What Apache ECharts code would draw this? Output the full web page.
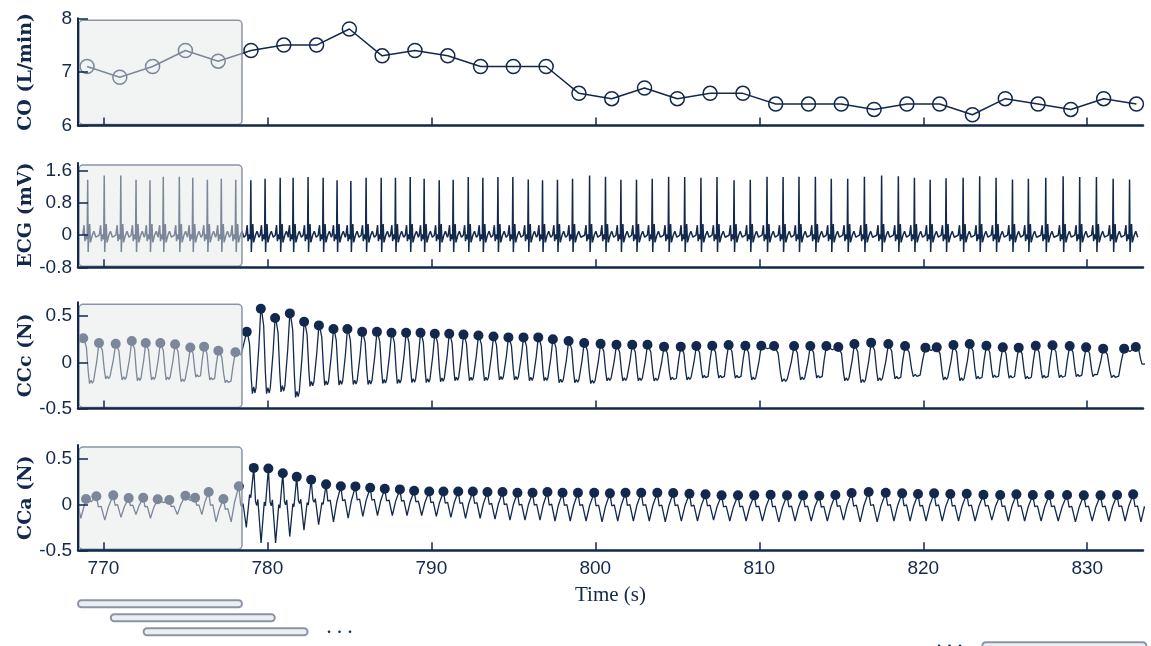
<!DOCTYPE html>
<html>
<head>
<meta charset="utf-8">
<script src="https://cdn.jsdelivr.net/npm/echarts@6/dist/echarts.min.js"></script>
<style>
  html, body { margin: 0; padding: 0; background: #fff; }
  #chart-container { width: 1151px; height: 646px; }
</style>
</head>
<body>
<div id="chart-container"></div>
<script>
// time axis (s)
var timeMin = 768.45;
var timeMax = 833.4;
var timeTicks = [770, 780, 790, 800, 810, 820, 830];

// CO (L/min), one estimate every 2 s
var coTimes = [769, 771, 773, 775, 777, 779, 781, 783, 785, 787, 789, 791, 793, 795, 797, 799, 801,
  803, 805, 807, 809, 811, 813, 815, 817, 819, 821, 823, 825, 827, 829, 831, 833];
var coValues = [7.1, 6.9, 7.1, 7.4, 7.2, 7.4, 7.5, 7.5, 7.8, 7.3, 7.4, 7.3, 7.1, 7.1, 7.1, 6.6, 6.5,
  6.7, 6.5, 6.6, 6.6, 6.4, 6.4, 6.4, 6.3, 6.4, 6.4, 6.2, 6.5, 6.4, 6.3, 6.5, 6.4];

// ECG: R-peak times (s) and R amplitudes (mV)
var ecgBeatTimes = [769.04, 770.05, 771.06, 771.99, 772.84, 773.65, 774.63, 775.45, 776.34, 777.19, 778.07,
  778.99, 779.86, 780.78, 781.57, 782.48, 783.40, 784.25, 785.09, 786.02, 786.94,
  787.81, 788.71, 789.56, 790.48, 791.33, 792.25, 793.14, 794.06, 794.97, 795.91,
  796.78, 797.69, 798.61, 799.65, 800.62, 801.56, 802.51, 803.47, 804.47, 805.45,
  806.44, 807.42, 808.46, 809.45, 810.47, 811.45, 812.42, 813.42, 814.39, 815.39,
  816.41, 817.46, 818.48, 819.46, 820.42, 821.39, 822.43, 823.44, 824.44, 825.44,
  826.41, 827.47, 828.53, 829.54, 830.56, 831.58, 832.58];
var ecgBeatPeaks = [1.38, 1.49, 1.49, 1.38, 1.37, 1.46, 1.46, 1.43, 1.38, 1.41, 1.38,
  1.37, 1.41, 1.43, 1.43, 1.45, 1.43, 1.37, 1.35, 1.43, 1.43,
  1.43, 1.45, 1.41, 1.37, 1.38, 1.45, 1.43, 1.45, 1.45, 1.39,
  1.37, 1.38, 1.41, 1.49, 1.46, 1.38, 1.38, 1.41, 1.46, 1.45,
  1.43, 1.45, 1.37, 1.38, 1.46, 1.45, 1.46, 1.46, 1.41, 1.41,
  1.46, 1.49, 1.47, 1.43, 1.38, 1.42, 1.43, 1.47, 1.43, 1.39,
  1.41, 1.43, 1.47, 1.45, 1.45, 1.41, 1.39];
// beat shape around each R peak (offset s, mV); the 0 offset takes the R amplitude
var ecgShapeT = [-0.30, -0.22, -0.17, -0.10, -0.03, 0, 0.03, 0.07, 0.12, 0.17, 0.28, 0.38, 0.50];
var ecgShapeV = [0.0, 0.25, -0.15, 0.02, -0.10, 0, -0.42, 0.05, 0.28, -0.18, 0.0, 0.10, -0.05];

// CCc (N): detected peaks and the trough that follows each
var cccTimes = [768.77, 769.73, 770.75, 771.73, 772.58, 773.47, 774.37, 775.30, 776.14, 777.01, 778.05,
  778.74, 779.60, 780.47, 781.37, 782.24, 783.14, 784.03, 784.88, 785.78, 786.68,
  787.57, 788.46, 789.34, 790.21, 791.09, 791.96, 792.87, 793.79, 794.70, 795.62,
  796.52, 797.41, 798.37, 799.32, 800.32, 801.29, 802.25, 803.18, 804.19, 805.21,
  806.16, 807.13, 808.13, 809.15, 810.12, 810.90, 812.12, 813.11, 814.09, 814.82,
  815.80, 816.82, 817.87, 818.89, 820.13, 820.82, 821.84, 822.83, 823.85, 824.85,
  825.82, 826.86, 827.88, 828.93, 829.93, 830.97, 832.25, 832.96];
var cccPeaks = [0.26, 0.21, 0.20, 0.23, 0.21, 0.21, 0.195, 0.16, 0.17, 0.125, 0.11,
  0.33, 0.58, 0.48, 0.53, 0.44, 0.40, 0.36, 0.36, 0.33, 0.33,
  0.32, 0.32, 0.32, 0.31, 0.31, 0.30, 0.29, 0.28, 0.27, 0.27,
  0.27, 0.25, 0.23, 0.21, 0.20, 0.19, 0.19, 0.19, 0.17, 0.17,
  0.177, 0.18, 0.188, 0.18, 0.18, 0.177, 0.177, 0.177, 0.177, 0.166,
  0.198, 0.213, 0.198, 0.177, 0.159, 0.162, 0.188, 0.198, 0.18, 0.162,
  0.159, 0.18, 0.184, 0.177, 0.162, 0.148, 0.148, 0.166];
var cccTroughs = [-0.23, -0.18, -0.19, -0.20, -0.19, -0.19, -0.21, -0.16, -0.19, -0.22, -0.29,
  -0.34, -0.34, -0.32, -0.38, -0.26, -0.25, -0.245, -0.24, -0.24, -0.23,
  -0.23, -0.22, -0.22, -0.21, -0.20, -0.20, -0.20, -0.19, -0.19, -0.20,
  -0.20, -0.22, -0.22, -0.23, -0.20, -0.20, -0.20, -0.20, -0.19, -0.19,
  -0.17, -0.17, -0.17, -0.19, -0.21, -0.21, -0.19, -0.17, -0.20, -0.20,
  -0.22, -0.20, -0.18, -0.155, -0.19, -0.19, -0.20, -0.18, -0.165, -0.17,
  -0.18, -0.17, -0.165, -0.155, -0.155, -0.165, -0.17, -0.02];
var cccLeadIn = [[768.45, 0.2]];

// CCa (N): detected peaks and the trough that follows each
var ccaTimes = [768.94, 769.57, 770.60, 771.54, 772.43, 773.31, 774.02, 775.00, 775.59, 776.42, 777.32, 778.26,
  779.17, 780.06, 780.94, 781.79, 782.67, 783.58, 784.48, 785.37, 786.27, 787.16,
  788.08, 788.95, 789.87, 790.74, 791.64, 792.53, 793.42, 794.34, 795.25, 796.17,
  797.08, 798.00, 798.94, 799.93, 800.89, 801.84, 802.80, 803.78, 804.75, 805.74,
  806.72, 807.70, 808.70, 809.69, 810.69, 811.69, 812.67, 813.66, 814.64, 815.63,
  816.67, 817.71, 818.71, 819.68, 820.66, 821.65, 822.65, 823.67, 824.69, 825.68,
  826.68, 827.69, 828.77, 829.79, 830.81, 831.82, 832.80];
var ccaPeaks = [0.06, 0.09, 0.10, 0.07, 0.074, 0.057, 0.05, 0.096, 0.074, 0.136, 0.06, 0.20,
  0.40, 0.393, 0.342, 0.302, 0.27, 0.22, 0.20, 0.198, 0.183, 0.172,
  0.165, 0.15, 0.143, 0.143, 0.143, 0.143, 0.136, 0.136, 0.128, 0.128,
  0.136, 0.128, 0.128, 0.128, 0.122, 0.128, 0.128, 0.128, 0.125, 0.117,
  0.111, 0.10, 0.10, 0.10, 0.107, 0.10, 0.10, 0.096, 0.103, 0.125,
  0.136, 0.128, 0.122, 0.114, 0.122, 0.114, 0.118, 0.107, 0.103, 0.111,
  0.103, 0.103, 0.103, 0.10, 0.10, 0.103, 0.111];
var ccaTroughs = [-0.15, -0.17, -0.14, -0.11, -0.15, -0.14, -0.11, -0.15, -0.11, -0.19, -0.19, -0.25,
  -0.42, -0.42, -0.35, -0.28, -0.22, -0.19, -0.15, -0.13, -0.12, -0.12,
  -0.12, -0.12, -0.13, -0.14, -0.15, -0.15, -0.16, -0.17, -0.17, -0.17,
  -0.18, -0.18, -0.18, -0.19, -0.18, -0.18, -0.18, -0.19, -0.18, -0.18,
  -0.17, -0.18, -0.18, -0.18, -0.19, -0.18, -0.18, -0.18, -0.17, -0.19,
  -0.19, -0.18, -0.18, -0.18, -0.18, -0.18, -0.18, -0.17, -0.18, -0.18,
  -0.18, -0.18, -0.19, -0.18, -0.18, -0.18, -0.19];
var ccaLeadIn = [[768.45, 0.0], [768.62, -0.15]];

// cycle shapes between one peak and the next (fraction of cycle, level 0 = trough .. 1 = peak)
var cccShapeF = [0.08, 0.20, 0.32, 0.40, 0.50, 0.58, 0.66, 0.74, 0.86];
var cccShapeR = [0.95, 0.80, 0.25, 0.00, 0.08, 0.01, 0.07, 0.05, 0.55];
var ccaShapeF = [0.12, 0.20, 0.28, 0.50, 0.72, 0.80];
var ccaShapeR = [0.55, 0.50, 0.58, 0.00, 0.55, 0.50];

// highlighted 10 s analysis window and sliding windows below the axis
var highlightWindow = [768.45, 778.45];
var windowStarts = [768.45, 770.45, 772.45, 823.6];
var windowRows = [0, 1, 2, 3];
var windowLength = 10;
var ellipsisAt = [[784.4, 2], [821.6, 3]];

var NAVY = "#12284c";

function buildEcg() {
  var pts = [];
  ecgBeatTimes.forEach(function (t, i) {
    ecgShapeT.forEach(function (dt, k) {
      pts.push([+(t + dt).toFixed(3), dt === 0 ? ecgBeatPeaks[i] : ecgShapeV[k]]);
    });
  });
  return pts;
}

function buildCycles(leadIn, times, peaks, troughs, shapeF, shapeR) {
  var pts = leadIn.slice();
  for (var i = 0; i < times.length; i++) {
    var t = times[i], p = peaks[i], q = troughs[i];
    var last = i === times.length - 1;
    var g = last ? 0.95 : times[i + 1] - t;
    var pNext = last ? p : peaks[i + 1];
    pts.push([t, p]);
    if (g < 0.8) {
      // two detections on one plateau
      pts.push([t + g / 2, Math.min(p, pNext) - 0.03]);
      continue;
    }
    for (var k = 0; k < shapeF.length; k++) {
      var top = shapeF[k] < 0.45 ? p : pNext;
      pts.push([t + shapeF[k] * g, q + shapeR[k] * (top - q)]);
    }
  }
  return pts;
}

function zip(a, b) {
  return a.map(function (v, i) { return [v, b[i]]; });
}

var chartDom = document.getElementById("chart-container");
var myChart = echarts.init(chartDom, null, { renderer: "canvas" });

// panel layout
var panelTop = [18.3, 163, 302.3, 445];
var panelHeight = [107.2, 104.3, 106.2, 105.3];
var panelNames = ["CO (L/min)", "ECG (mV)", "CCc (N)", "CCa (N)"];
var panelMin = [6, -0.8, -0.5, -0.5];
var panelMax = [8, 1.8, 0.65, 0.65];
var panelTicks = [[6, 7, 8], [-0.8, 0, 0.8, 1.6], [-0.5, 0, 0.5], [-0.5, 0, 0.5]];

var labelFont = { fontFamily: "Liberation Sans", fontSize: 19, color: NAVY };

var grids = [], xAxes = [], yAxes = [];
for (var i = 0; i < 4; i++) {
  grids.push({ left: 78, right: 8, top: panelTop[i], height: panelHeight[i] });
  xAxes.push({
    type: "value", gridIndex: i, min: timeMin, max: timeMax, z: 150,
    axisLine: { show: true, onZero: false, lineStyle: { color: NAVY, width: 2.5 } },
    axisTick: { show: true, inside: true, length: 8, customValues: timeTicks, lineStyle: { color: NAVY, width: 1.5 } },
    axisLabel: Object.assign({ show: i === 3, margin: 9, customValues: timeTicks }, labelFont),
    splitLine: { show: false },
    name: i === 3 ? "Time (s)" : "",
    nameLocation: "middle",
    nameGap: 35,
    nameMoveOverlap: false,
    nameTextStyle: { fontFamily: "Liberation Serif", fontSize: 21, color: NAVY }
  });
  yAxes.push({
    type: "value", gridIndex: i, min: panelMin[i], max: panelMax[i], z: 150,
    axisLine: { show: true, onZero: false, lineStyle: { color: NAVY, width: 2 } },
    axisTick: { show: true, inside: true, length: 10, customValues: panelTicks[i], lineStyle: { color: NAVY, width: 1.5 } },
    axisLabel: Object.assign({ margin: 6, customValues: panelTicks[i] }, labelFont),
    splitLine: { show: false },
    name: panelNames[i],
    nameLocation: "middle",
    nameGap: 42,
    nameMoveOverlap: false,
    nameTextStyle: { fontFamily: "DejaVu Serif", fontWeight: "bold", fontSize: 19, color: NAVY }
  });
}
// sliding-window strip under the time axis (rows 14 px apart, last row cut by the page edge)
grids.push({ left: 78, right: 8, top: 596.7, bottom: 0 });
xAxes.push({ type: "value", gridIndex: 4, min: timeMin, max: timeMax, show: false });
yAxes.push({ type: "value", gridIndex: 4, min: -0.5, max: 3.02, inverse: true, show: false });

function waveSeries(idx, data, width) {
  return {
    type: "line", xAxisIndex: idx, yAxisIndex: idx, data: data,
    showSymbol: false, symbol: "none", silent: true,
    lineStyle: { color: NAVY, width: width }
  };
}

function peakSeries(idx, data) {
  return {
    type: "scatter", xAxisIndex: idx, yAxisIndex: idx, data: data,
    symbolSize: 10, silent: true, itemStyle: { color: NAVY, opacity: 1 }
  };
}

var option = {
  animation: false,
  backgroundColor: "#ffffff",
  textStyle: { fontFamily: "Liberation Sans" },
  grid: grids,
  xAxis: xAxes,
  yAxis: yAxes,
  series: [
    {
      type: "line", xAxisIndex: 0, yAxisIndex: 0, data: zip(coTimes, coValues),
      symbol: "circle", symbolSize: 14, showSymbol: true, silent: true,
      lineStyle: { color: NAVY, width: 1.5 },
      itemStyle: { color: "rgba(255,255,255,0)", borderColor: NAVY, borderWidth: 1.5 }
    },
    waveSeries(1, buildEcg(), 1.5),
    waveSeries(2, buildCycles(cccLeadIn, cccTimes, cccPeaks, cccTroughs, cccShapeF, cccShapeR), 1.3),
    peakSeries(2, zip(cccTimes, cccPeaks)),
    waveSeries(3, buildCycles(ccaLeadIn, ccaTimes, ccaPeaks, ccaTroughs, ccaShapeF, ccaShapeR), 1.3),
    peakSeries(3, zip(ccaTimes, ccaPeaks)),
    {
      type: "custom", xAxisIndex: 4, yAxisIndex: 4, data: zip(windowStarts, windowRows), silent: true, clip: false,
      renderItem: function (params, api) {
        var a = api.coord([api.value(0), api.value(1)]);
        var b = api.coord([api.value(0) + windowLength, api.value(1)]);
        var h = 7;
        return {
          type: "rect",
          shape: { x: a[0], y: a[1] - h / 2, width: b[0] - a[0], height: h, r: h / 2 },
          style: { fill: "#eceef1", stroke: "#8a94a6", lineWidth: 2 }
        };
      }
    },
    {
      type: "custom", xAxisIndex: 4, yAxisIndex: 4, data: ellipsisAt, silent: true, clip: false,
      renderItem: function (params, api) {
        var c = api.coord([api.value(0), api.value(1)]);
        return {
          type: "group",
          children: [-10.5, 0, 10.5].map(function (dx) {
            return { type: "circle", shape: { cx: c[0] + dx, cy: c[1], r: 1.3 }, style: { fill: NAVY } };
          })
        };
      }
    }
  ]
};

option && myChart.setOption(option);

// translucent box over the highlighted window in every panel
function drawHighlight() {
  var boxes = [];
  for (var i = 0; i < 4; i++) {
    var x0 = myChart.convertToPixel({ xAxisIndex: i }, highlightWindow[0]) + 1;
    var x1 = myChart.convertToPixel({ xAxisIndex: i }, highlightWindow[1]);
    var y0 = myChart.convertToPixel({ yAxisIndex: i }, panelMax[i]) + 2;
    var y1 = myChart.convertToPixel({ yAxisIndex: i }, panelMin[i]) - 1;
    boxes.push({
      type: "rect", z: 100, silent: true,
      shape: { x: x0, y: y0, width: x1 - x0, height: y1 - y0, r: 4 },
      style: { fill: "rgba(229,231,231,0.5)", stroke: "#8b95a8", lineWidth: 1.5 }
    });
  }
  myChart.setOption({ graphic: boxes });
}
drawHighlight();

window.addEventListener("resize", function () {
  myChart.resize();
  drawHighlight();
});
</script>
</body>
</html>
